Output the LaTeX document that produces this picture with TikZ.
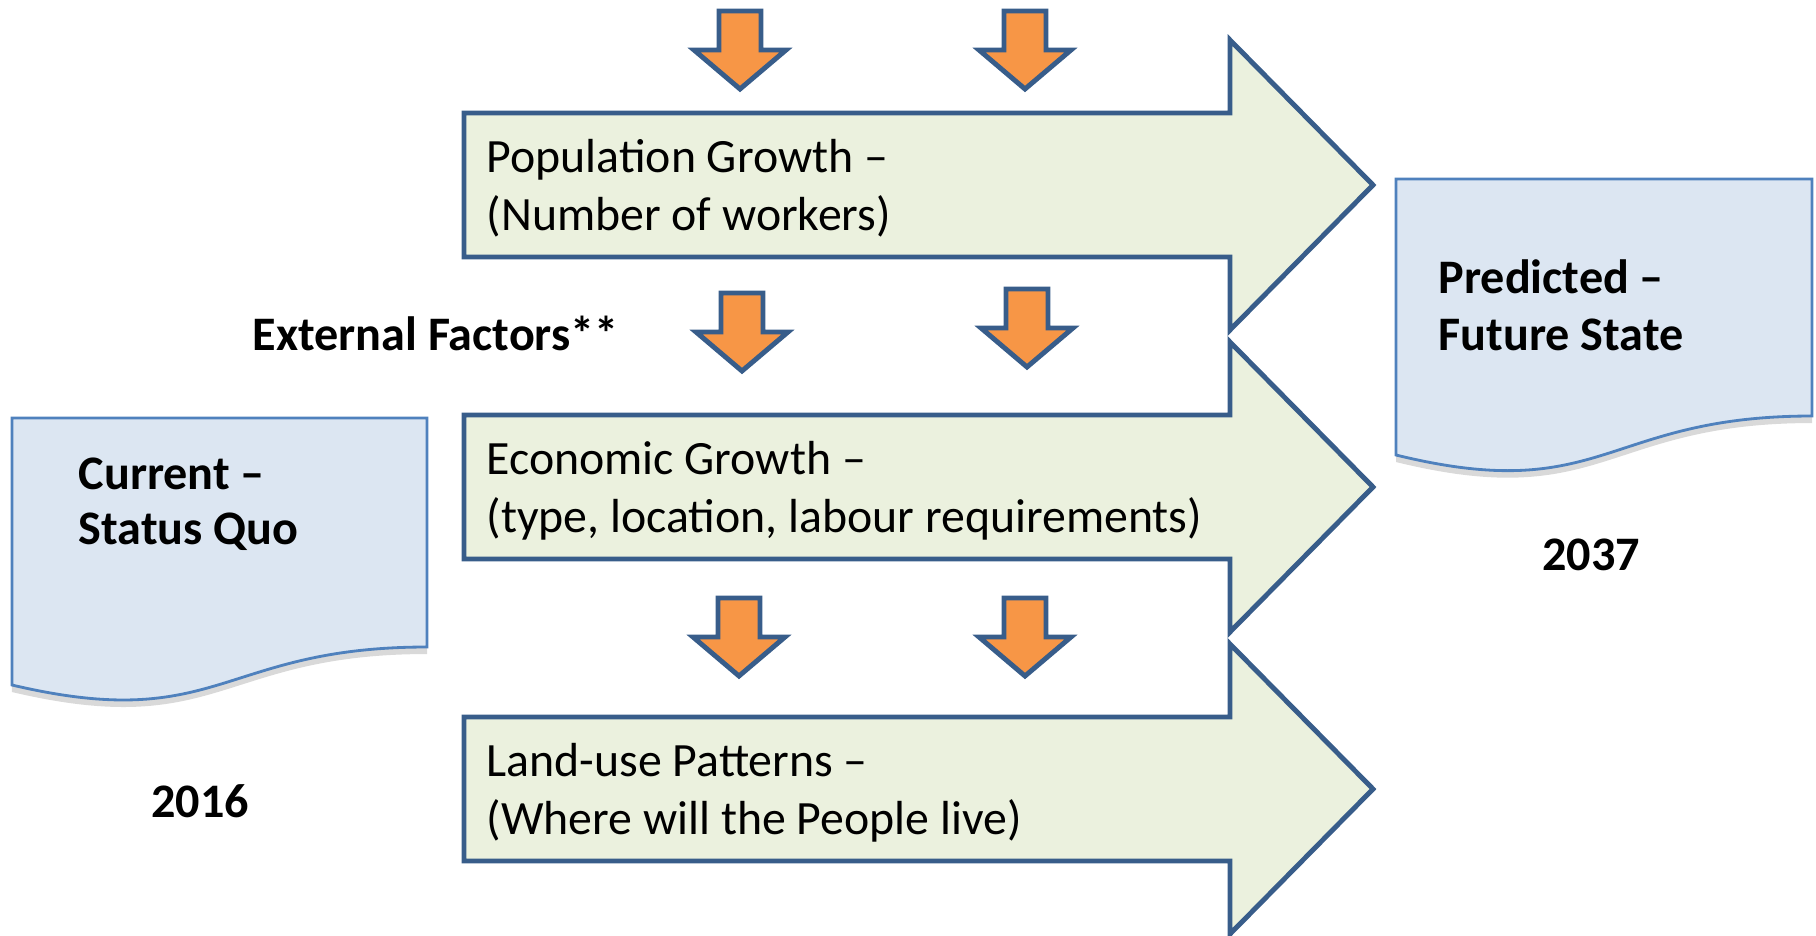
\documentclass[tikz,border=0pt]{standalone}
\usepackage{fontspec}
\setmainfont{Carlito}
\usetikzlibrary{shadows}
\definecolor{arrline}{RGB}{56,93,138}
\definecolor{arrfill}{RGB}{235,241,222}
\definecolor{orangefill}{RGB}{247,150,70}
\definecolor{docfill}{RGB}{220,230,242}
\definecolor{docline}{RGB}{79,129,189}
\tikzstyle{bigarr}=[draw=arrline, fill=arrfill, line width=1.4pt]
\tikzstyle{smallarr}=[draw=arrline, fill=orangefill, line width=1.4pt]
\tikzstyle{doc}=[draw=docline, fill=docfill, line width=0.8pt, drop shadow={opacity=0.3, shadow xshift=0pt, shadow yshift=-2pt}]
\tikzstyle{txt}=[anchor=base west, inner sep=0pt, align=left, font=\fontsize{13.6}{16.5}\selectfont]
\tikzstyle{head}=[anchor=base west, inner sep=0pt, align=left, font=\fontsize{13.7}{15.4}\selectfont\bfseries]
\tikzstyle{year}=[anchor=base, inner sep=0pt, font=\fontsize{13.7}{16}\selectfont\bfseries]

\begin{document}
\begin{tikzpicture}
    \useasboundingbox (0,0) rectangle (18.16,-9.35);
    % the two documents
    \draw[doc] (0.12,-4.18) -- (4.27,-4.18) -- (4.27,-6.47) .. controls (2.20,-6.47) and (2.20,-7.34) .. (0.12,-6.85) -- cycle;
    \draw[doc] (13.96,-1.79) -- (18.12,-1.79) -- (18.12,-4.16) .. controls (16.04,-4.16) and (16.04,-5.06) .. (13.96,-4.55) -- cycle;
    % big arrows
    \foreach \c in {1.85,4.87,7.89}
        \draw[bigarr] (4.64,-\c+0.72) -- (12.30,-\c+0.72) -- (12.30,-\c+1.45) -- (13.73,-\c) -- (12.30,-\c-1.45) -- (12.30,-\c-0.72) -- (4.64,-\c-0.72) -- cycle;
    % orange arrows
    \foreach \x/\y in {7.40/0.11, 10.25/0.11, 7.42/2.93, 10.27/2.89, 7.39/5.98, 10.25/5.98}
        \draw[smallarr] (\x-0.21,-\y) -- ++(0.42,0) -- ++(0,-0.39) -- ++(0.25,0) -- ++(-0.46,-0.39) -- ++(-0.46,0.39) -- ++(0.25,0) -- cycle;
    % base is the last line here
    \node[txt] (pop) at (4.86,-2.30) {Population Growth --\\(Number of workers)};
    \node[txt] (eco) at (4.86,-5.32) {Economic Growth --\\(type, location, labour requirements)};
    \node[txt] (land) at (4.86,-8.34) {Land-use Patterns --\\(Where will the People live)};
    \node[head] (ext) at (2.52,-3.50) {External Factors**};
    \node[head] (cur) at (0.78,-5.44) {Current --\\Status Quo};
    \node[head, font=\fontsize{13.7}{16.2}\selectfont\bfseries] (fut) at (14.38,-3.50) {Predicted --\\Future State};
    \node[year] (y16) at (2.00,-8.17) {2016};
    \node[year] (y37) at (15.91,-5.70) {2037};
\end{tikzpicture}
\end{document}
